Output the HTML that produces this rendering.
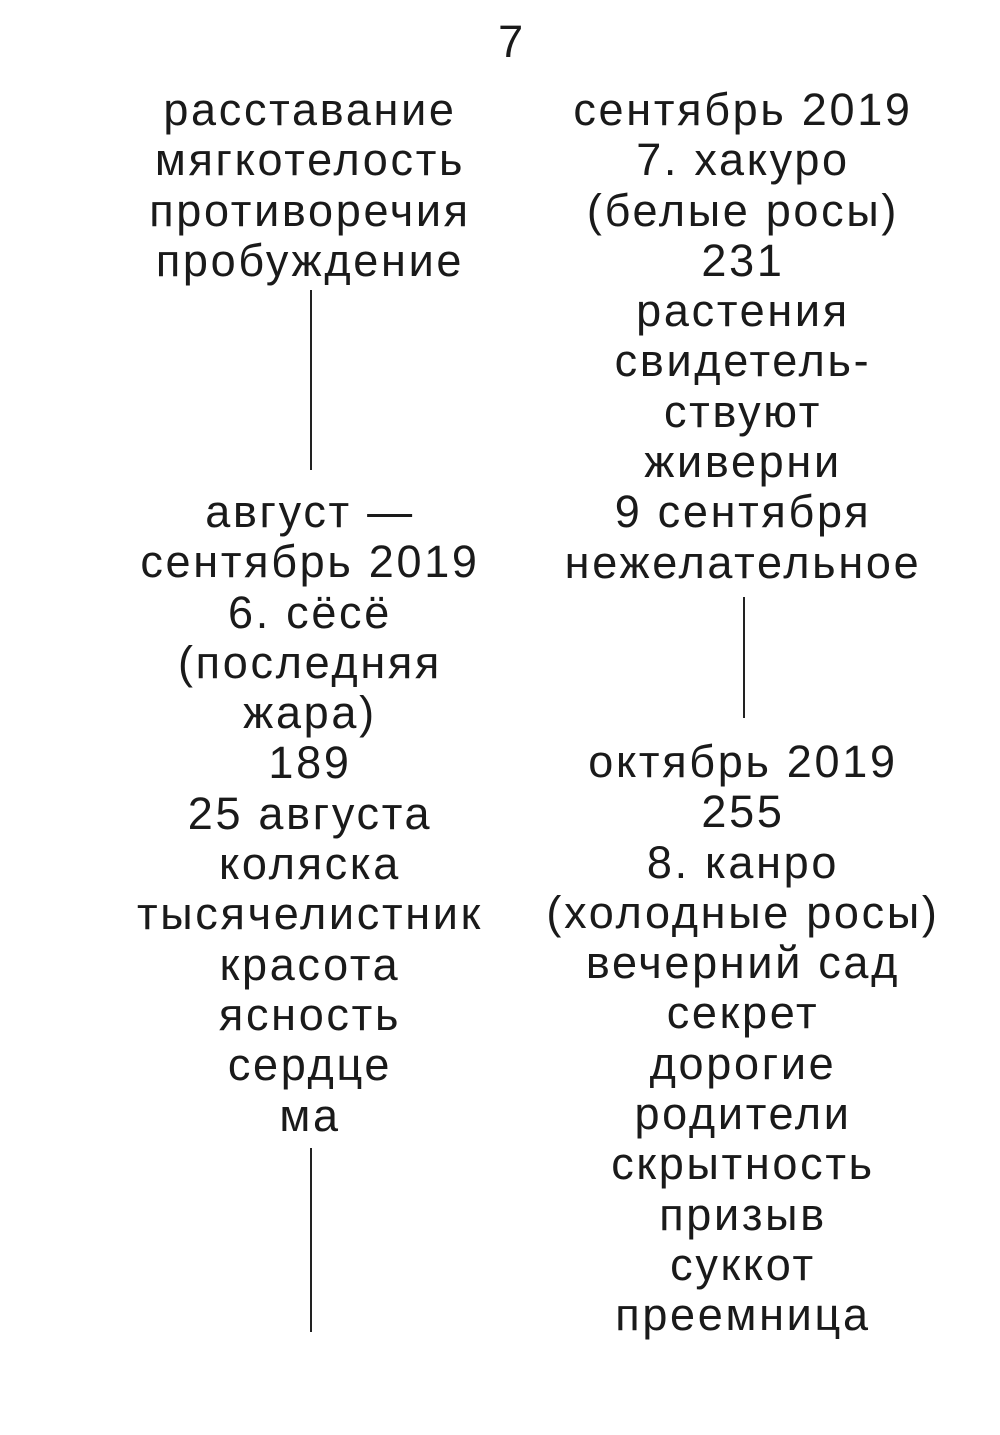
<!DOCTYPE html>
<html><head><meta charset="utf-8"><style>
html,body{margin:0;padding:0;background:#fff;}
body{width:1000px;height:1435px;position:relative;overflow:hidden;font-family:"Liberation Sans","DejaVu Sans",sans-serif;color:#1a1a1a;}
.b{position:absolute;width:440px;text-align:center;font-size:45px;line-height:50.3px;letter-spacing:2.7px;white-space:nowrap;}
.l{left:90px;}
.r{left:523px;}
.v{position:absolute;width:1.5px;background:#222;}
</style></head><body>
<div class="b" style="left:292px;width:440px;top:17px;">7</div>
<div class="b l" style="top:85px;">расставание<br>мягкотелость<br>противоречия<br>пробуждение</div>
<div class="v" style="left:310px;top:290px;height:180px;"></div>
<div class="b l" style="top:487px;">август —<br>сентябрь 2019<br>6. сёсё<br>(последняя<br>жара)<br>189<br>25 августа<br>коляска<br>тысячелистник<br>красота<br>ясность<br>сердце<br>ма</div>
<div class="v" style="left:310px;top:1148px;height:184px;"></div>
<div class="b r" style="top:85px;">сентябрь 2019<br>7. хакуро<br>(белые росы)<br>231<br>растения<br>свидетель-<br>ствуют<br>живерни<br>9 сентября<br>нежелательное</div>
<div class="v" style="left:743px;top:597px;height:121px;"></div>
<div class="b r" style="top:737px;">октябрь 2019<br>255<br>8. канро<br>(холодные росы)<br>вечерний сад<br>секрет<br>дорогие<br>родители<br>скрытность<br>призыв<br>суккот<br>преемница</div>
</body></html>
